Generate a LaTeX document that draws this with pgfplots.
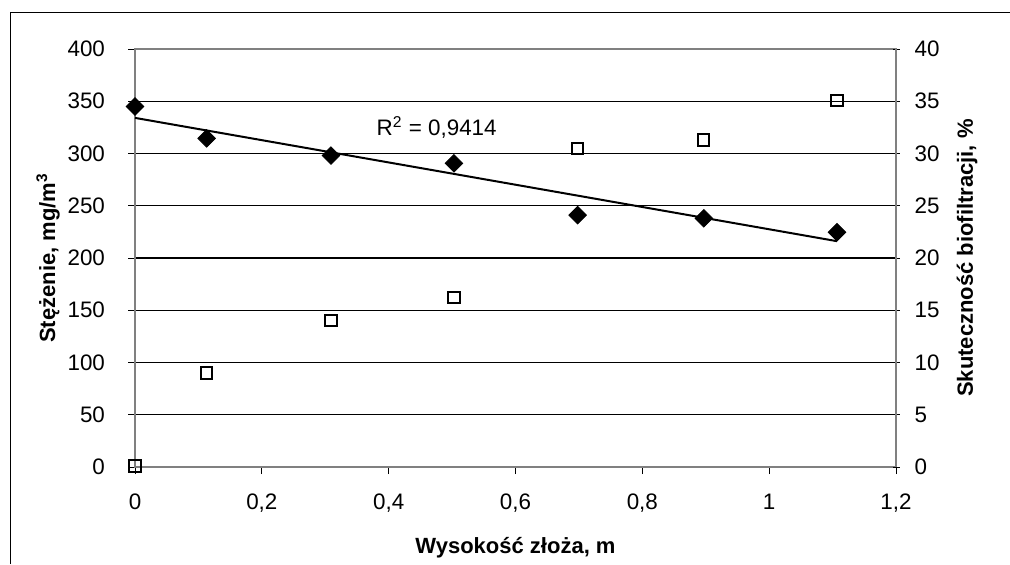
\documentclass[border=0pt]{standalone}
\usepackage{fontspec}
\setmainfont{Liberation Sans}
\usepackage{pgfplots}
\pgfplotsset{compat=1.18}

\begin{document}
\begin{tikzpicture}
\pgfplotsset{
  every axis/.append style={
    scale only axis, width=380.5pt, height=209pt,
    xmin=0, xmax=1.2,
    clip=false,
    tick label style={font=\fontsize{11.2}{13}\selectfont},
    tick style={black, line width=0.5pt},
    major tick length=3.5pt,
    axis line style={gray, line width=1.2pt},
    /pgf/number format/assume math mode=true,
  },
}
% left axis: concentration
\begin{axis}[
  ymin=0, ymax=400, ytick={0,50,...,400},
  xtick={0,0.2,0.4,0.6,0.8,1,1.2},
  xticklabels={0,{0,2},{0,4},{0,6},{0,8},1,{1,2}},
  xtick pos=bottom, ytick pos=left,
  tick align=outside,
  ymajorgrids, grid style={black, line width=0.55pt},
  yticklabel style={xshift=-8pt},
  xticklabel style={yshift=-6.5pt},
  xlabel={Wysokość złoża, m},
  ylabel={Stężenie, mg/m\textsuperscript{3}},
  every axis x label/.style={at={(axis description cs:0.5,0)}, anchor=center,
    yshift=-40.5pt, font=\fontsize{11}{13}\selectfont\bfseries},
  every axis y label/.style={at={(axis description cs:0,0.5)}, anchor=center,
    xshift=-43.5pt, rotate=90, font=\fontsize{11}{13}\selectfont\bfseries},
]
\addplot[black, line width=1pt, no marks] coordinates {(0,334.1) (1.107,216.1)};
\addplot[only marks, mark=square*, mark size=3.1pt,
  mark options={rotate=45, fill=black, draw=black}] coordinates {
  (0,345) (0.113,314.5) (0.309,298) (0.503,290.6)
  (0.698,241) (0.897,238) (1.107,224.7)
};
\node[anchor=west, font=\fontsize{11.2}{13}\selectfont] at (axis cs:0.37,325) {R\textsuperscript{2} = 0,9414};
\end{axis}
% right axis: efficiency
\begin{axis}[
  ymin=0, ymax=40, ytick={0,5,...,40},
  axis x line=none, axis y line*=right,
  tick align=center,
  yticklabel style={xshift=4pt},
  ylabel={Skuteczność biofiltracji, \%},
  every axis y label/.style={at={(axis description cs:1,0.5)}, anchor=center,
    xshift=35.5pt, rotate=90, font=\fontsize{11}{13}\selectfont\bfseries},
]
\addplot[only marks, mark=square, mark size=2.8pt,
  mark options={draw=black, fill=white, line width=1pt}] coordinates {
  (0,0.1) (0.113,9.0) (0.309,14.0) (0.503,16.2)
  (0.698,30.5) (0.897,31.3) (1.107,35.1)
};
\end{axis}
\draw[line width=0.75pt] (-62.25pt,-48.5pt) -- (-62.25pt,227.25pt) -- (437.5pt,227.25pt);
\pgfresetboundingbox
\useasboundingbox (-67.5pt,-48.5pt) rectangle (437.5pt,233.5pt);
\end{tikzpicture}
\end{document}
